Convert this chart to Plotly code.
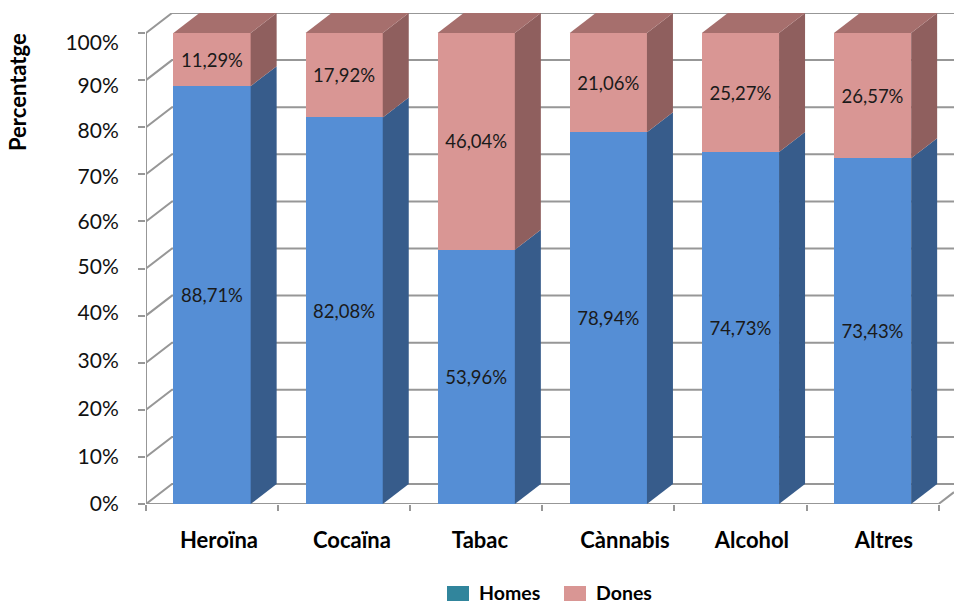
import plotly.graph_objects as go

categories = ["Heroïna", "Cocaïna", "Tabac", "Cànnabis", "Alcohol", "Altres"]
homes = [88.71, 82.08, 53.96, 78.94, 74.73, 73.43]
dones = [11.29, 17.92, 46.04, 21.06, 25.27, 26.57]
y_ticks = [0, 10, 20, 30, 40, 50, 60, 70, 80, 90, 100]
y_labels = ["0%", "10%", "20%", "30%", "40%", "50%", "60%", "70%", "80%", "90%", "100%"]
# the reference's tick labels do not sit exactly on its tick marks
y_label_pos = [0, 10.1, 20.3, 30.5, 40.6, 50.3, 59.9, 69.4, 79.2, 88.8, 97.9]
x_label_pos = [0.552, 1.559, 2.528, 3.626, 4.587, 5.586]

fmt = lambda v: f"{v:.2f}%".replace(".", ",")

W, H = 954, 603
L, R, T, B = 146, 0, 13, 99
PX_X = 132.1    # px per category slot
PX_Y = 4.71     # px per percentage point
DX = 26 / PX_X  # depth of the 3D extrusion in data units
DY = 20 / PX_Y
XMAX = (W - L - R) / PX_X
YMAX = (H - T - B) / PX_Y
BAR_W = 77.2 / PX_X
GRID = "#979797"
BLUE, BLUE_S = "#558ED5", "#375C8B"
PINK, PINK_S, PINK_T = "#D99694", "#8F5F5E", "#A66F6D"
TEXT = "#1a1a1a"
FONT = "Lato, Carlito, sans-serif"

xs = [i + 0.5 for i in range(len(categories))]
fig = go.Figure()


def poly(px, py, color):
    fig.add_trace(go.Scatter(x=px + px[:1], y=py + py[:1], mode="lines", fill="toself",
                             fillcolor=color, line=dict(width=0, color=color),
                             hoverinfo="skip", showlegend=False))


for x, h in zip(xs, homes):
    r = x + BAR_W / 2
    poly([r, r + DX, r + DX, r], [0, DY, h + DY, h], BLUE_S)
    poly([r, r + DX, r + DX, r], [h, h + DY, 100 + DY, 100], PINK_S)
    poly([r - BAR_W, r, r + DX, r - BAR_W + DX], [100, 100, 100 + DY, 100 + DY], PINK_T)

fig.add_trace(go.Bar(x=xs, y=homes, width=BAR_W, name="Homes", marker=dict(color=BLUE, line=dict(width=0)),
                     text=[fmt(v) for v in homes], textposition="inside", insidetextanchor="middle",
                     textangle=0, insidetextfont=dict(family=FONT, size=18.5, color=TEXT), showlegend=False))
fig.add_trace(go.Bar(x=xs, y=dones, width=BAR_W, name="Dones", marker=dict(color=PINK, line=dict(width=0)),
                     text=[fmt(v) for v in dones], textposition="inside", insidetextanchor="middle",
                     textangle=0, insidetextfont=dict(family=FONT, size=18.5, color=TEXT), showlegend=False))

shapes = []
line = dict(color=GRID, width=2)
for v in y_ticks:
    shapes.append(dict(type="path", layer="below", xref="x", yref="y", line=line,
                       path=f"M0,{v} L{DX},{v + DY} L{XMAX},{v + DY}"))
# axis lines
shapes.append(dict(type="line", layer="below", xref="x", yref="y", x0=0, x1=0, y0=0, y1=100, line=line))
shapes.append(dict(type="line", layer="below", xref="x", yref="y", x0=0, x1=len(categories), y0=0, y1=0, line=line))
shapes.append(dict(type="line", layer="below", xref="x", yref="y", x0=len(categories), x1=XMAX, y0=0,
                   y1=(XMAX - len(categories)) / DX * DY, line=line))

# legend
legend = [("Homes", "#31859C", 447, 479), ("Dones", PINK, 564, 596)]
annotations = []
for name, col, sx, tx in legend:
    shapes.append(dict(type="rect", xref="paper", yref="paper", x0=(sx - L) / (W - L), x1=(sx + 22 - L) / (W - L),
                       y0=(H - B - 601) / (H - T - B), y1=(H - B - 586) / (H - T - B),
                       fillcolor=col, line=dict(width=0)))
    annotations.append(dict(xref="paper", yref="paper", x=(tx - 2 - L) / (W - L), y=(H - B - 592.5) / (H - T - B),
                            xanchor="left", yanchor="middle", showarrow=False, text=f"<b>{name}</b>",
                            font=dict(family=FONT, size=19.5, color="#000000")))
annotations.append(dict(xref="paper", yref="paper", x=(17 - L) / (W - L), y=(H - B - 92) / (H - T - B),
                        xanchor="center", yanchor="middle", textangle=-90, showarrow=False,
                        text="<b>Percentatge</b>", font=dict(family=FONT, size=22, color="#000000")))

fig.update_layout(
    width=W, height=H, margin=dict(l=L, r=R, t=T, b=B, pad=0),
    paper_bgcolor="white", plot_bgcolor="white", barmode="stack", showlegend=False,
    shapes=shapes, annotations=annotations,
    xaxis=dict(range=[0, XMAX], showgrid=False, zeroline=False, showline=False,
               tickmode="array", tickvals=x_label_pos, ticktext=[f"<b>{c}</b>" for c in categories],
               ticks="outside", ticklen=17, tickcolor="rgba(0,0,0,0)",
               tickfont=dict(family=FONT, size=22, color="#000000"),
               minor=dict(tickmode="array", tickvals=list(range(len(categories) + 1)), ticks="outside",
                          ticklen=6, tickwidth=2, tickcolor=GRID, showgrid=False)),
    yaxis=dict(range=[0, YMAX], showgrid=False, zeroline=False, showline=False,
               tickmode="array", tickvals=y_label_pos, ticktext=y_labels,
               ticks="outside", ticklen=22, tickcolor="rgba(0,0,0,0)",
               tickfont=dict(family=FONT, size=21, color="#111111"),
               minor=dict(tickmode="array", tickvals=y_ticks, ticks="outside", ticklen=7, tickwidth=2,
                          tickcolor=GRID, showgrid=False)),
)
fig.write_html("out.html", config=dict(displayModeBar=False), post_script="document.body.style.margin='0';")
